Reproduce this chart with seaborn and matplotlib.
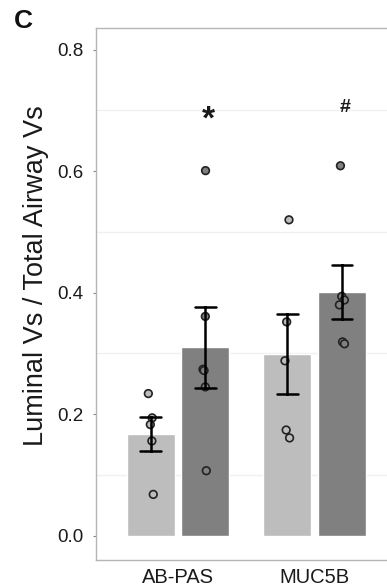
import numpy as np
import pandas as pd
import seaborn as sns
import matplotlib.pyplot as plt

# ---------------- datos ----------------
categorias = ["AB-PAS", "MUC5B"]
grupos = ["Group 1", "Group 2"]

abpas_g1 = [0.234, 0.194, 0.183, 0.156, 0.068]
abpas_g2 = [0.601, 0.361, 0.274, 0.272, 0.245, 0.107]
muc5b_g1 = [0.520, 0.352, 0.288, 0.174, 0.161]
muc5b_g2 = [0.609, 0.394, 0.388, 0.380, 0.319, 0.316]

sig_labels = ["*", "#"]
sig_y = [0.685, 0.705]

colores = ["#bdbdbd", "#808080"]

# tabla larga
filas = []
for cat, g1, g2 in [("AB-PAS", abpas_g1, abpas_g2), ("MUC5B", muc5b_g1, muc5b_g2)]:
    filas += [(cat, grupos[0], v) for v in g1]
    filas += [(cat, grupos[1], v) for v in g2]
df = pd.DataFrame(filas, columns=["tinción", "grupo", "valor"])

# ---------------- figura ----------------
sns.set_style("white")
plt.rcParams["font.family"] = ["Liberation Sans", "DejaVu Sans"]

fig = plt.figure(figsize=(3.87, 5.88), dpi=100)
ax = fig.add_axes([0.248, 0.0476, 0.777, 0.905])

sns.barplot(data=df, x="tinción", y="valor", hue="grupo", order=categorias,
            hue_order=grupos, palette=colores, saturation=1, width=0.8, gap=0.125,
            errorbar="se", capsize=0.3,
            err_kws={"color": "black", "linewidth": 1.8}, legend=False, ax=ax)
for linea in ax.lines:
    linea.set_zorder(4)

np.random.seed(7)
sns.stripplot(data=df, x="tinción", y="valor", hue="grupo", order=categorias,
              hue_order=grupos, palette=colores, dodge=True, jitter=0.04,
              size=5.5, edgecolor="#222222", linewidth=1.2, legend=False,
              zorder=3, ax=ax)

# marcas de significancia sobre la barra oscura
for i, (lab, y) in enumerate(zip(sig_labels, sig_y)):
    if lab == "*":
        ax.text(i + 0.22, y, lab, ha="center", va="center", fontsize=24,
                fontweight="bold", color="#1a1a1a")
    else:
        ax.text(i + 0.22, y, lab, ha="center", va="center", fontsize=14,
                fontweight="bold", color="#1a1a1a")

ax.set_xlim(-0.6, 1.6)
ax.set_ylim(-0.040, 0.836)
ax.set_yticks([0.0, 0.2, 0.4, 0.6, 0.8])
ax.set_yticklabels(["0.0", "0.2", "0.4", "0.6", "0.8"])
ax.set_yticks([0.1, 0.3, 0.5, 0.7], minor=True)
ax.grid(which="minor", axis="y", color="#f0f0f0", linewidth=1)
ax.grid(which="major", visible=False)
ax.set_axisbelow(True)

ax.tick_params(axis="y", which="major", labelsize=13.5, length=2, width=0.8,
               color="#888888", pad=7, left=True, labelcolor="#1a1a1a")
ax.tick_params(axis="y", which="minor", length=0)
ax.tick_params(axis="x", labelsize=14.5, length=0, pad=6, labelcolor="#1a1a1a")

for lado in ["left", "top", "bottom", "right"]:
    ax.spines[lado].set_color("#b5b5b5")
    ax.spines[lado].set_linewidth(1)

ax.set_xlabel("")
ax.set_ylabel("Luminal Vs / Total Airway Vs", fontsize=19.5, color="#1a1a1a")
ax.yaxis.set_label_coords(-0.155, 0.535)

fig.text(0.037, 0.952, "C", fontsize=19, fontweight="bold", va="baseline",
         color="#111111")

fig.savefig("out.png", dpi=100)
